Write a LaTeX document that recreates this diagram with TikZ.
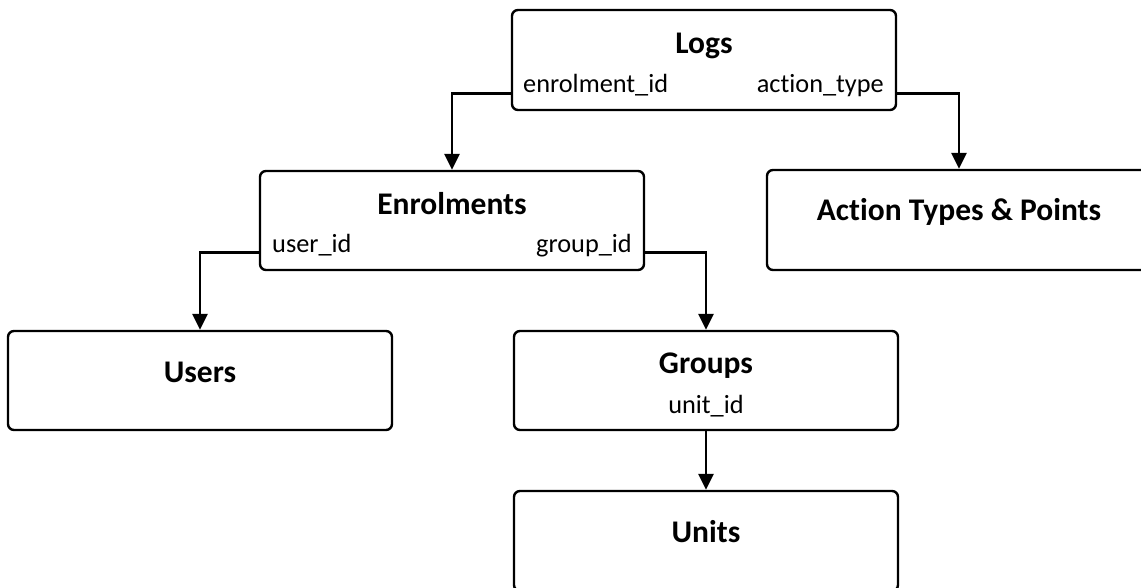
\documentclass[tikz,border=0pt]{standalone}
\usepackage{fontspec}
\setmainfont[Ligatures=NoCommon]{Carlito}
\usetikzlibrary{arrows.meta}

\tikzset{
  table/.style={draw, line width=2.4pt, rounded corners=6pt,
    minimum width=384pt, inner sep=0pt},
  title/.style={font=\fontsize{31.5}{36}\selectfont\bfseries, anchor=base, inner sep=0pt},
  field/.style={font=\fontsize{26.3}{30}\selectfont, anchor=base, inner sep=0pt},
  link/.style={line width=2.8pt, -{Triangle[width=15pt,length=16pt]}},
}

\begin{document}
\begin{tikzpicture}[x=1pt, y=-1pt]
\useasboundingbox (0,0) rectangle (1141,587);
\clip (0,0) rectangle (1141,587);

% tables
\node[table, minimum height=100pt] (logs)  at (704,60)    {};
\node[table, minimum height=99pt]  (enrol) at (452,220.5) {};
\node[table, minimum height=100pt] (acts)  at (959,220)   {};
\node[table, minimum height=99pt]  (users) at (200,380.5) {};
\node[table, minimum height=99pt]  (groups) at (706,380.5) {};
\node[table, minimum height=100pt] (units) at (706,541)   {};

% table names
\node[title] (logsT)   at (704,53)  {Logs};
\node[title] (enrolT)  at (452,214) {Enrolments};
\node[title] (actsT)   at (959,220) {Action Types \& Points};
\node[title] (usersT)  at (200,382) {Users};
\node[title] (groupsT) at (706,373) {Groups};
\node[title] (unitsT)  at (706,542) {Units};

% key fields
\node[field, anchor=base west] (logsF1)  at (523,92)  {enrolment\_id};
\node[field, anchor=base east] (logsF2)  at (884,92)  {action\_type};
\node[field, anchor=base west] (enrolF1) at (272,252) {user\_id};
\node[field, anchor=base east] (enrolF2) at (632,252) {group\_id};
\node[field] (groupsF1) at (706,413) {unit\_id};

% references
\draw[link] ([yshift=18pt]logs.south west) -| (enrol.north);
\draw[link] ([yshift=18pt]logs.south east) -| (acts.north);
\draw[link] ([yshift=19pt]enrol.south west) -| (users.north);
\draw[link] ([yshift=19pt]enrol.south east) -| (groups.north);
\draw[link] (groups.south) -- (units.north);
\end{tikzpicture}
\end{document}
